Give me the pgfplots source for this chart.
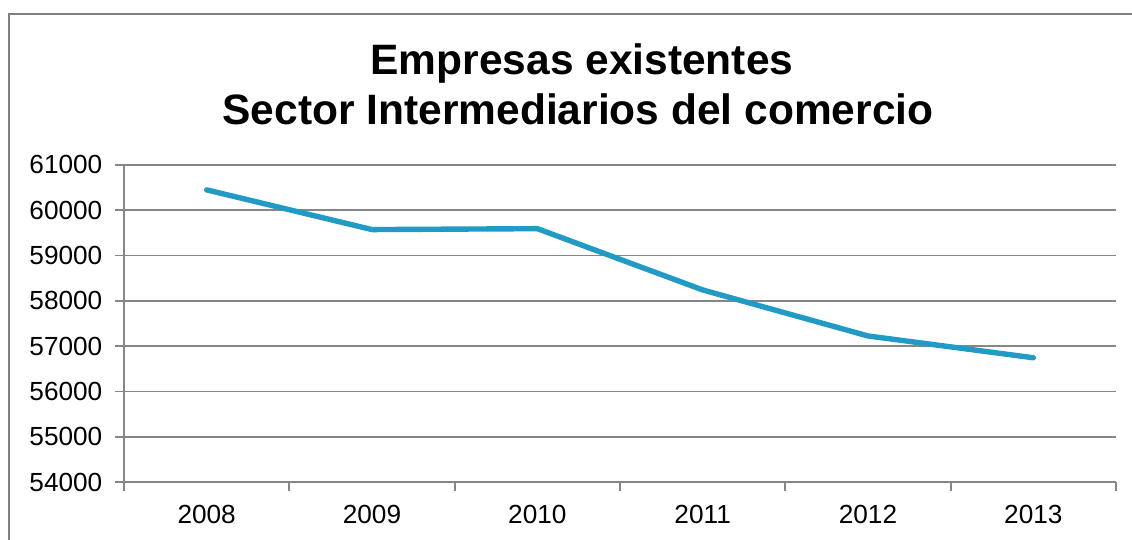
\documentclass[border=0pt]{standalone}
\usepackage{fontspec}
\setmainfont{Liberation Sans}
\usepackage{pgfplots}
\pgfplotsset{compat=1.18}
\definecolor{linecol}{RGB}{33,155,198}
\definecolor{axgray}{RGB}{134,134,134}
\definecolor{framegray}{RGB}{128,128,128}
\begin{document}
\begin{tikzpicture}
\useasboundingbox (0,0) rectangle (566pt,270pt);
% outer frame (right and bottom edges fall outside the picture)
\draw[framegray, line width=1pt] (4.35pt,-5pt) -- (4.35pt,263pt) -- (575pt,263pt);
% title
\node[anchor=base, font=\fontsize{21.25}{24}\selectfont\bfseries] at (291pt,232.5pt) {Empresas existentes};
\node[anchor=base, font=\fontsize{21.25}{24}\selectfont\bfseries] at (289pt,207.5pt) {Sector Intermediarios del comercio};
\begin{axis}[
  at={(62pt,28.85pt)}, anchor=south west,
  scale only axis, width=496pt, height=158.8pt,
  xmin=0.5, xmax=6.5, ymin=54000, ymax=61000,
  xtick={0.5,1.5,...,6.5},
  x tick label as interval,
  xticklabels={2008,2009,2010,2011,2012,2013},
  ytick={54000,55000,...,61000},
  scaled y ticks=false,
  /pgf/number format/fixed,
  /pgf/number format/1000 sep={},
  /pgf/number format/assume math mode=true,
  axis x line*=bottom, axis y line*=left,
  axis line style={axgray, line width=0.9pt, -},
  tick align=outside, major tick length=4.5pt,
  tick style={axgray, line width=0.9pt},
  ymajorgrids, grid style={axgray, line width=0.9pt},
  tick label style={font=\fontsize{13.1}{15}\selectfont},
  xticklabel style={yshift=-3.5pt},
  yticklabel style={xshift=-2.8pt},
  clip=false,
]
\addplot[linecol, line width=2.7pt, line cap=round, line join=round]
  coordinates {(1,60445)(2,59570)(3,59590)(4,58240)(5,57225)(6,56745)};
\end{axis}
\end{tikzpicture}
\end{document}
